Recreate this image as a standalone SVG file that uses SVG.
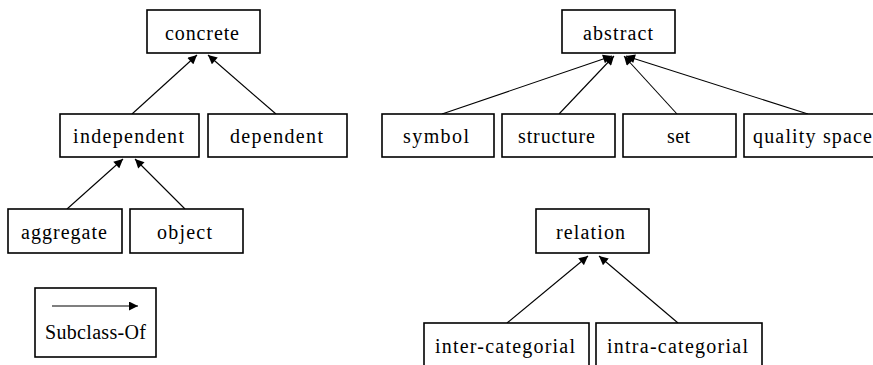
<svg xmlns="http://www.w3.org/2000/svg" width="873" height="365" viewBox="0 0 873 365">
<defs>
<marker id="ah" viewBox="0 0 10 10" refX="10" refY="5" markerWidth="10" markerHeight="9" markerUnits="userSpaceOnUse" orient="auto">
<path d="M0,0 L10,5 L0,10 z" fill="#000"/>
</marker>
</defs>
<style>
rect{fill:#fff;stroke:#000;stroke-width:1.6}
text{font-family:"Liberation Serif","Times New Roman",serif;font-size:20px;fill:#000;text-anchor:start}
.c line{stroke:#000;stroke-width:1.1;marker-end:url(#ah)}
</style>
<rect x="0" y="0" width="873" height="365" style="fill:#fff;stroke:none"/>
<g class="c" id="connectors">
<line x1="132" y1="114" x2="197" y2="55"/>
<line x1="276" y1="114" x2="208" y2="55"/>
<line x1="67" y1="209" x2="123" y2="159"/>
<line x1="185" y1="209" x2="135" y2="159"/>
<line x1="442" y1="114" x2="612" y2="56"/>
<line x1="559" y1="114" x2="614" y2="56"/>
<line x1="677" y1="114" x2="624" y2="56"/>
<line x1="808" y1="114" x2="626" y2="56"/>
<line x1="507" y1="323" x2="588" y2="256"/>
<line x1="678" y1="323" x2="599" y2="256"/>
</g>
<g id="concrete"><rect x="147" y="10" width="113" height="43"/><text x="165" y="40" textLength="74">concrete</text></g>
<g id="independent"><rect x="60" y="114" width="139" height="43"/><text x="73" y="143" textLength="111">independent</text></g>
<g id="dependent"><rect x="208" y="114" width="139" height="43"/><text x="230" y="143" textLength="93">dependent</text></g>
<g id="aggregate"><rect x="8" y="209" width="114" height="44"/><text x="21" y="239" textLength="86">aggregate</text></g>
<g id="object"><rect x="130" y="209" width="113" height="44"/><text x="157" y="239" textLength="55">object</text></g>
<g id="abstract"><rect x="562" y="10" width="113" height="43"/><text x="583" y="40" textLength="70">abstract</text></g>
<g id="symbol"><rect x="382" y="114" width="112" height="43"/><text x="403" y="143" textLength="66">symbol</text></g>
<g id="structure"><rect x="502" y="114" width="113" height="43"/><text x="518" y="143" textLength="77">structure</text></g>
<g id="set"><rect x="623" y="114" width="113" height="43"/><text x="667" y="143" textLength="23">set</text></g>
<g id="quality-space"><rect x="744" y="114" width="140" height="43"/><text x="753" y="143" textLength="119">quality space</text></g>
<g id="relation"><rect x="536" y="209" width="113" height="44"/><text x="556" y="239" textLength="69">relation</text></g>
<g id="inter-categorial"><rect x="424" y="323" width="165" height="60"/><text x="435" y="353" textLength="140">inter-categorial</text></g>
<g id="intra-categorial"><rect x="596" y="323" width="166" height="60"/><text x="607" y="353" textLength="141">intra-categorial</text></g>
<g id="legend"><rect x="35" y="288" width="121" height="69"/>
<line x1="52" y1="306" x2="138" y2="306" style="stroke:#000;stroke-width:1.1;marker-end:url(#ah)"/>
<text x="45" y="339" textLength="101">Subclass-Of</text></g>
</svg>
